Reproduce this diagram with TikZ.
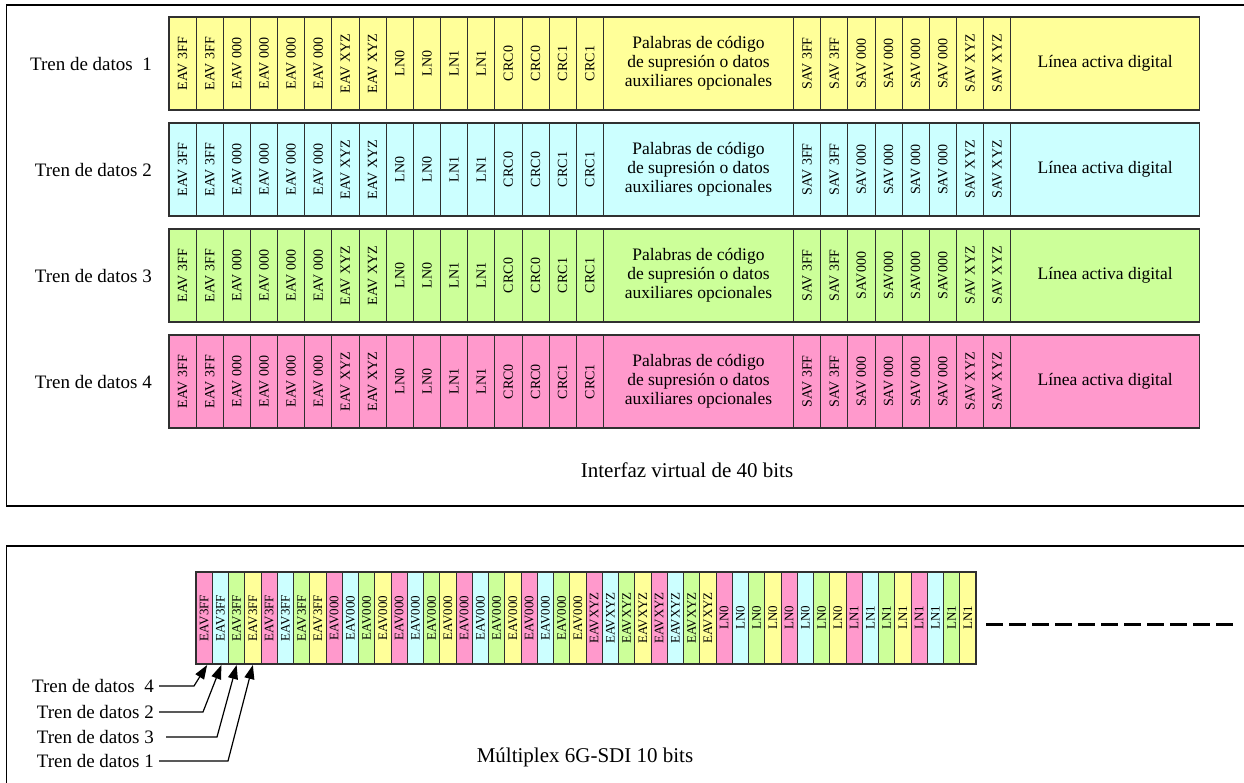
\documentclass[tikz,border=0pt]{standalone}
\usepackage{fontspec}
\setmainfont{Liberation Serif}
\usetikzlibrary{arrows.meta,calc}
\definecolor{cy}{HTML}{FFFF99}
\definecolor{cc}{HTML}{CCFFFF}
\definecolor{cg}{HTML}{CCFF99}
\definecolor{cp}{HTML}{FF99CC}
\definecolor{edge}{HTML}{303030}
\newcommand{\datarow}[6]{%
  \pgfmathsetmacro{\yc}{#2+46.5}
  \node[rowlabel] (lab#1) at (152,\yc) {#6};
  \foreach \t [count=\i from 0] in {#4} {
    \node[vcell, fill=#3] (r#1e\i) at ({169+27.15*(\i+0.5)},\yc) {\t};
  }
  \node[wcell, fill=#3, minimum width=190.1pt] (r#1w) at (698.45,\yc)
    {Palabras de código\\de supresión o datos\\auxiliares opcionales};
  \foreach \t [count=\i from 0] in {#5} {
    \node[vcell, fill=#3] (r#1s\i) at ({793.5+27.15*(\i+0.5)},\yc) {\t};
  }
  \node[wcell, fill=#3, minimum width=188.9pt] (r#1l) at (1105.15,\yc) {Línea activa digital};
  \draw[outline] (169,#2) rectangle (1199.6,#2+93);
}
\begin{document}
\begin{tikzpicture}[x=1pt,y=-1pt,
  vcell/.style={draw=edge, line width=0.9pt, rotate=90, minimum width=93pt, minimum height=27.15pt, inner sep=0pt, font=\fontsize{14}{15}\selectfont},
  scell/.style={draw=edge, line width=0.9pt, rotate=90, minimum width=92pt, minimum height=16.25pt, inner sep=0pt, font=\fontsize{13}{14}\selectfont},
  wcell/.style={draw=edge, line width=0.9pt, minimum height=93pt, inner sep=0pt, align=center, font=\fontsize{17.5}{19}\selectfont},
  rowlabel/.style={anchor=east, inner sep=0pt, font=\fontsize{19}{21}\selectfont},
  caption/.style={inner sep=0pt, anchor=base, font=\fontsize{21}{23}\selectfont},
  frame/.style={line width=1.6pt, black},
  outline/.style={draw=edge, line width=1.5pt},
  arr/.style={draw=black, line width=1.2pt, -{Triangle[length=14pt,width=10pt]}},
  dashline/.style={line width=3pt, dash pattern=on 16.7pt off 6.3pt}
]
\useasboundingbox (0,0) rectangle (1244,782);

% frames
\draw[frame] (1246,5) -- (6.5,5) -- (6.5,506) -- (1246,506);
\draw[frame] (1246,546) -- (6.5,546) -- (6.5,784);

% data rows
\datarow{1}{17}{cy}{EAV 3FF,EAV 3FF,EAV 000,EAV 000,EAV 000,EAV 000,EAV XYZ,EAV XYZ,LN0,LN0,LN1,LN1,CRC0,CRC0,CRC1,CRC1}{SAV 3FF,SAV 3FF,SAV 000,SAV 000,SAV 000,SAV 000,SAV XYZ,SAV XYZ}{Tren de datos\ \ 1}
\datarow{2}{123}{cc}{EAV 3FF,EAV 3FF,EAV 000,EAV 000,EAV 000,EAV 000,EAV XYZ,EAV XYZ,LN0,LN0,LN1,LN1,CRC0,CRC0,CRC1,CRC1}{SAV 3FF,SAV 3FF,SAV 000,SAV 000,SAV 000,SAV 000,SAV XYZ,SAV XYZ}{Tren de datos 2}
\datarow{3}{229}{cg}{EAV 3FF,EAV 3FF,EAV 000,EAV 000,EAV 000,EAV 000,EAV XYZ,EAV XYZ,LN0,LN0,LN1,LN1,CRC0,CRC0,CRC1,CRC1}{SAV 3FF,SAV 3FF,SAV000,SAV000,SAV000,SAV000,SAV XYZ,SAV XYZ}{Tren de datos 3}
\datarow{4}{335}{cp}{EAV 3FF,EAV 3FF,EAV 000,EAV 000,EAV 000,EAV 000,EAV XYZ,EAV XYZ,LN0,LN0,LN1,LN1,CRC0,CRC0,CRC1,CRC1}{SAV 3FF,SAV 3FF,SAV 000,SAV 000,SAV 000,SAV 000,SAV XYZ,SAV XYZ}{Tren de datos 4}

\node[caption] (cap1) at (687,477) {Interfaz virtual de 40 bits};

% multiplex strip
\foreach \t [count=\g from 0] in {EAV3FF,EAV3FF,EAV000,EAV000,EAV000,EAV000,EAVXYZ,EAVXYZ,LN0,LN0,LN1,LN1} {
  \foreach \c [count=\k from 0] in {cp,cc,cg,cy} {
    \pgfmathtruncatemacro{\n}{4*\g+\k+1}
    \node[scell, fill=\c] (s\n) at ({196+16.25*(\n-0.5)},618) {\t};
  }
}
\draw[outline] (196,572) rectangle (976,664);

\coordinate (d0) at (986,624);
\coordinate (d1) at (1233,624);
\draw[dashline] (d0) -- (d1);

% stream labels
\node[rowlabel] (t4) at (154,686) {Tren de datos\ \ 4};
\node[rowlabel] (t2) at (154,712) {Tren de datos 2};
\node[rowlabel] (t3) at (154,737) {Tren de datos 3};
\node[rowlabel] (t1) at (154,761) {Tren de datos 1};

\coordinate (b4) at (194,686);
\coordinate (b2) at (203,712);
\coordinate (b3) at (217,737);
\coordinate (b1) at (228,761);

\draw[arr] ([xshift=5pt]t4.east) -- (b4) -- ($(s1.center)+(3,47)$);
\draw[arr] ([xshift=5pt]t2.east) -- (b2) -- ($(s2.center)+(1,47)$);
\draw[arr] ([xshift=12pt]t3.east) -- (b3) -- ($(s3.center)+(0,47)$);
\draw[arr] ([xshift=5pt]t1.east) -- (b1) -- ($(s4.center)+(0,47)$);

\node[caption] (cap2) at (585,762) {Múltiplex 6G-SDI 10 bits};
\end{tikzpicture}
\end{document}
